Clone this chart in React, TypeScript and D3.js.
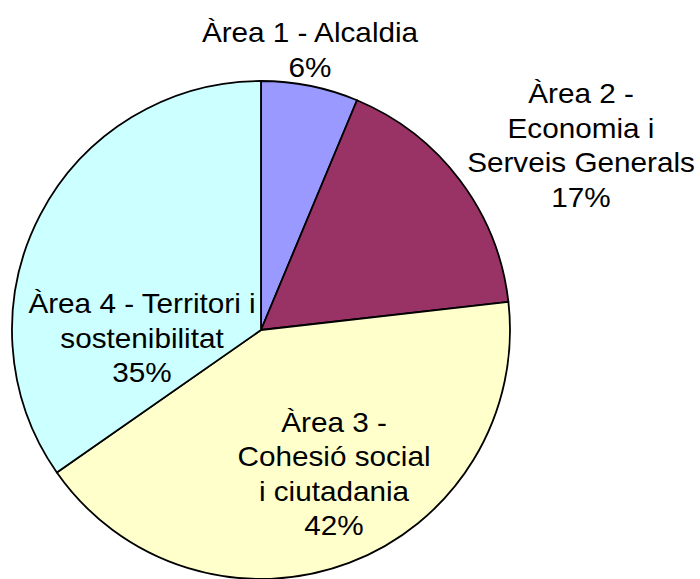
import React from "react";
import * as d3 from "d3";

const categories = [
  "Àrea 1 - Alcaldia",
  "Àrea 2 - Economia i Serveis Generals",
  "Àrea 3 - Cohesió social i ciutadania",
  "Àrea 4 - Territori i sostenibilitat",
];
const values = [6.3, 16.9, 42.1, 34.7];
const labelLines = [
  ["Àrea 1 - Alcaldia"],
  ["Àrea 2 -", "Economia i", "Serveis Generals"],
  ["Àrea 3 -", "Cohesió social", "i ciutadania"],
  ["Àrea 4 - Territori i", "sostenibilitat"],
];
const colors = ["#9999FF", "#993366", "#FFFFCC", "#CCFFFF"];

// layout (style only): label first-baseline offset from pie center
const labelOffsets = [
  [49, -288],
  [320, -227],
  [73, 102],
  [-119, -17],
];

const W = 700;
const H = 579;
const CX = 261;
const CY = 330;
const R = 249;
const FONT = 27;
const SX = 1.1;
const LH = 34.5;

export default function App() {
  const total = d3.sum(values);
  const pie = d3
    .pie<number>()
    .sort(null)
    .value((d) => d)
    .startAngle(0)
    .endAngle(2 * Math.PI);
  const arcs = pie(values);
  const arc = d3.arc<d3.PieArcDatum<number>>().innerRadius(0).outerRadius(R);

  return (
    <svg
      width={W}
      height={H}
      style={{ position: "absolute", left: 0, top: 0, display: "block", background: "#fff" }}
      fontFamily="'Liberation Sans', Arial, sans-serif"
    >
      <g transform={`translate(${CX},${CY})`}>
        {arcs.map((a, i) => (
          <path
            key={categories[i]}
            d={arc(a) || ""}
            fill={colors[i]}
            stroke="#000"
            strokeWidth={1.8}
            strokeLinejoin="round"
          />
        ))}
        {arcs.map((a, i) => {
          const pct = d3.format(".0f")((values[i] / total) * 100) + "%";
          const lines = [...labelLines[i], pct];
          const [dx, dy] = labelOffsets[i];
          return (
            <g key={"l" + i} transform={`translate(${dx},0) scale(${SX},1)`}>
              {lines.map((t, j) => (
                <text
                  key={j}
                  x={0}
                  y={dy + j * LH}
                  textAnchor="middle"
                  fontSize={FONT}
                  fill="#000"
                >
                  {t}
                </text>
              ))}
            </g>
          );
        })}
      </g>
    </svg>
  );
}
